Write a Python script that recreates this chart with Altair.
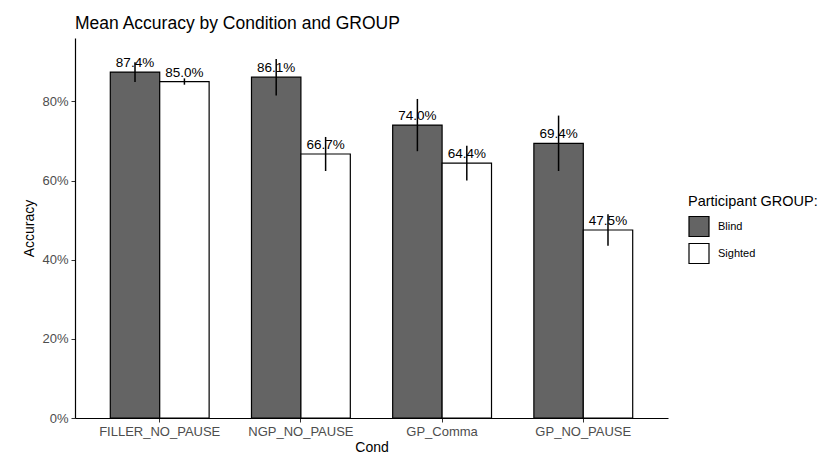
import altair as alt
import pandas as pd

conds = ["FILLER_NO_PAUSE", "NGP_NO_PAUSE", "GP_Comma", "GP_NO_PAUSE"]
groups = ["Blind", "Sighted"]
blind_acc = [0.874, 0.861, 0.740, 0.694]
sighted_acc = [0.850, 0.667, 0.644, 0.475]
blind_err = [0.025, 0.046, 0.066, 0.070]
sighted_err = [0.008, 0.043, 0.044, 0.040]

rows = []
for i, c in enumerate(conds):
    for g, acc, err in (("Blind", blind_acc, blind_err), ("Sighted", sighted_acc, sighted_err)):
        rows.append({
            "Cond": c,
            "GROUP": g,
            "Accuracy": acc[i],
            "lo": acc[i] - err[i],
            "hi": acc[i] + err[i],
            "label": f"{acc[i]*100:.1f}%",
        })
df = pd.DataFrame(rows)

FONT = "Liberation Sans"

x = alt.X("Cond:N", sort=conds, title="Cond",
          scale=alt.Scale(paddingInner=0.3, paddingOuter=0.25),
          axis=alt.Axis(labelAngle=0, labelFontSize=13, labelColor="#4d4d4d",
                        titleFontSize=14, titleColor="#000000", titleFontWeight="normal",
                        tickColor="#333333", tickSize=4, domain=True, domainColor="#000000",
                        domainWidth=1.2, labelPadding=3, titlePadding=2))
xoff = alt.XOffset("GROUP:N", sort=groups)
yscale = alt.Scale(domain=[0, 0.96], nice=False, zero=True)

base = alt.Chart(df)

bars = base.mark_bar(stroke="#000000", strokeWidth=1.2).encode(
    x=x,
    xOffset=xoff,
    y=alt.Y("Accuracy:Q", scale=yscale, title="Accuracy",
            axis=alt.Axis(format=".0%", values=[0, 0.2, 0.4, 0.6, 0.8], grid=False,
                          labelFontSize=13, labelColor="#4d4d4d", titleFontSize=14,
                          titleColor="#000000", titleFontWeight="normal",
                          tickColor="#333333", tickSize=4, domain=True, domainColor="#000000",
                          domainWidth=1.2, labelPadding=3, titlePadding=5)),
    fill=alt.Fill("GROUP:N", sort=groups,
                  scale=alt.Scale(domain=groups, range=["#646464", "#ffffff"]),
                  legend=alt.Legend(title="Participant GROUP:", orient="none",
                                    legendX=613, legendY=157,
                                    symbolType="square", symbolSize=400,
                                    symbolStrokeColor="#000000", symbolStrokeWidth=1.2,
                                    symbolFillColor="#646464",
                                    titleFontSize=14.5, titleFontWeight="normal",
                                    titleColor="#000000", labelFontSize=11,
                                    labelColor="#000000", rowPadding=1,
                                    titlePadding=6, labelOffset=8)),
)

errs = base.mark_rule(color="#000000", strokeWidth=1.5).encode(
    x=x, xOffset=xoff,
    y=alt.Y("lo:Q", scale=yscale),
    y2="hi:Q",
)

labels = base.mark_text(baseline="bottom", dy=-2, fontSize=13.5, color="#000000", font=FONT).encode(
    x=x, xOffset=xoff,
    y=alt.Y("Accuracy:Q", scale=yscale),
    text="label:N",
)

chart = alt.layer(bars, errs, labels).properties(
    width=593, height=380,
    title=alt.TitleParams("Mean Accuracy by Condition and GROUP", anchor="start",
                          frame="group", fontSize=17.5, fontWeight="normal",
                          color="#000000", font=FONT, offset=6),
    autosize=alt.AutoSizeParams(type="none"),
    padding={"left": 67, "top": 30, "right": 150, "bottom": 38},
).configure(font=FONT).configure_view(stroke=None)

chart.save("out.html", embed_options={"renderer": "svg", "actions": False})
